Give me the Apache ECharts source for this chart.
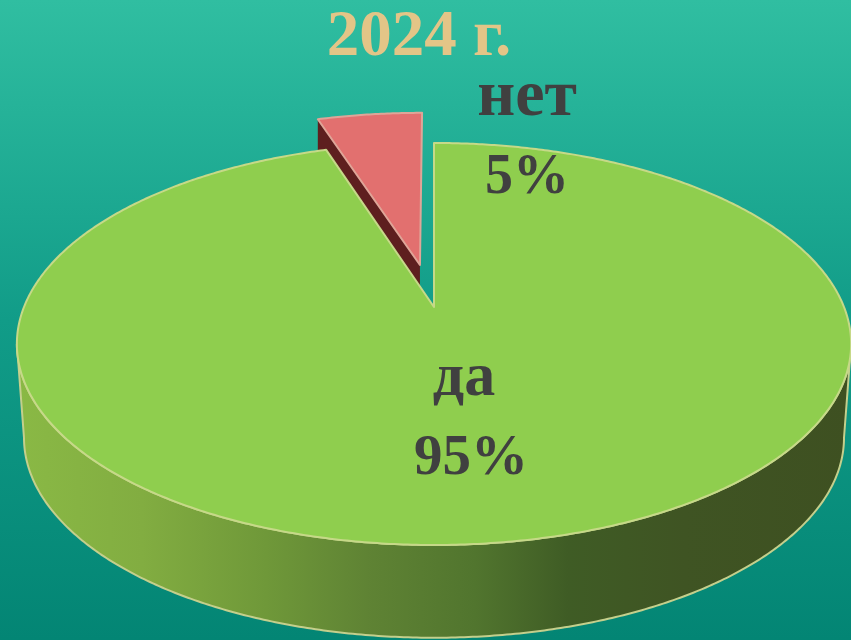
<!DOCTYPE html>
<html><head><meta charset="utf-8">
<style>html,body{margin:0;padding:0;width:851px;height:640px;overflow:hidden}#c{width:851px;height:640px}</style>
<script src="https://cdn.jsdelivr.net/npm/echarts@6/dist/echarts.min.js"></script>
</head><body><div id="c"></div>
<script>
const titleText = '2024 г.';
const categories = ['да', 'нет'];
const values = [95, 5];

// perspective of the tilted disc (style / layout only)
const CX = 434, K = 0.184;
const topPlane = {A: 410, B: 194.2, C: 307};
const lowPlane = {A: 403, B: 193.2, C: 401};
const EXPLODE = 0.228, PINK_DEPTH = 34;
const labelStyle = [
  {x: 464, y1: 379, size1: 62, x2: 471, y2: 459, size2: 57},
  {x: 527, y1: 98, size1: 66, x2: 527, y2: 179, size2: 56}
];

function project(pl, deg, ox, oy) { // deg clockwise from 12 o'clock
  const a = deg * Math.PI / 180;
  const X = Math.sin(a) + (ox || 0), Y = Math.cos(a) + (oy || 0);
  const w = 1 + K * Y;
  return [CX + pl.A * X / w, pl.C - pl.B * Y / w];
}
function center(pl, ox, oy) {
  const w = 1 + K * (oy || 0);
  return [CX + pl.A * (ox || 0) / w, pl.C - pl.B * (oy || 0) / w];
}
function arc(pl, from, to, ox, oy) {
  const pts = [], n = Math.max(2, Math.ceil(Math.abs(to - from) * 2));
  for (let i = 0; i <= n; i++) pts.push(project(pl, from + (to - from) * i / n, ox, oy));
  return pts;
}
const total = values.reduce((a, b) => a + b, 0);
const EDGE_DEG = Math.asin(K) * 180 / Math.PI + 90; // silhouette tangent angle

function renderItem(params, api) {
  const i = params.dataIndex, v = api.value(0);
  const before = values.slice(0, i).reduce((a, b) => a + b, 0);
  const start = before / total * 360, end = (before + v) / total * 360;
  const pct = Math.round(v / total * 100) + '%';
  const children = [];
  const edge = i === 0 ? '#c6d988' : '#dfa598';
  if (i === 0) {
    const wall = arc(topPlane, EDGE_DEG, 360 - EDGE_DEG).concat(arc(lowPlane, 360 - EDGE_DEG, EDGE_DEG));
    children.push({type: 'polygon', z2: 5, shape: {points: wall}, style: {
      stroke: '#c4cf8c', lineWidth: 2,
      fill: {type: 'linear', x: 0, y: 0, x2: 1, y2: 0, colorStops: [
        {offset: 0, color: '#8ab945'}, {offset: 0.15, color: '#82ad41'},
        {offset: 0.3, color: '#6f9839'}, {offset: 0.42, color: '#5f8334'},
        {offset: 0.55, color: '#51752e'}, {offset: 0.66, color: '#3f5c25'},
        {offset: 0.8, color: '#3f5423'}, {offset: 1, color: '#3e5021'}]}
    }});
    const top = [center(topPlane)].concat(arc(topPlane, start, end));
    children.push({type: 'polygon', z2: 10, shape: {points: top}, style: {fill: '#8fce4e', stroke: edge, lineWidth: 2, lineJoin: 'round'}});
  } else {
    const mid = (start + end) / 2 * Math.PI / 180;
    const ox = EXPLODE * Math.sin(mid), oy = EXPLODE * Math.cos(mid);
    const apex = center(topPlane, ox, oy), rim = project(topPlane, start, ox, oy);
    children.push({type: 'polygon', z2: 2, shape: {points: [apex, rim, [rim[0], rim[1] + PINK_DEPTH], [apex[0], apex[1] + PINK_DEPTH]]},
      style: {fill: '#5e1f1f'}});
    const top = [apex].concat(arc(topPlane, start, end, ox, oy));
    children.push({type: 'polygon', z2: 3, shape: {points: top}, style: {fill: '#e2706f', stroke: edge, lineWidth: 2, lineJoin: 'round'}});
  }
  const ls = labelStyle[i];
  const font = {fontFamily: '"Liberation Serif"', fontWeight: 'bold', fill: '#404040', align: 'center', verticalAlign: 'middle'};
  children.push({type: 'text', z2: 20, style: Object.assign({}, font, {text: categories[i], x: ls.x, y: ls.y1, fontSize: ls.size1})});
  children.push({type: 'text', z2: 20, style: Object.assign({}, font, {text: pct, x: ls.x2, y: ls.y2, fontSize: ls.size2})});
  return {type: 'group', children};
}

const chart = echarts.init(document.getElementById('c'), null, {renderer: 'canvas'});
chart.setOption({
  animation: false,
  backgroundColor: {type: 'linear', x: 0, y: 0, x2: 0, y2: 1, colorStops: [
    {offset: 0, color: '#30bea1'}, {offset: 0.5, color: '#119c88'}, {offset: 1, color: '#038574'}]},
  title: {text: titleText, left: 414, top: 1, textAlign: 'center',
    textStyle: {fontFamily: '"Liberation Serif"', fontWeight: 'bold', fontSize: 65, color: '#e3c587'}},
  series: [{type: 'custom', coordinateSystem: 'none', silent: true, renderItem,
    data: values.map((v, i) => ({name: categories[i], value: [v]}))}]
});
</script></body></html>
